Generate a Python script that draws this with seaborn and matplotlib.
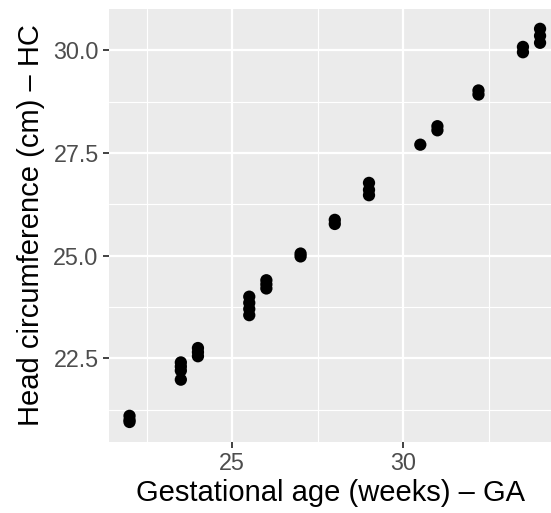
import numpy as np
import pandas as pd
import seaborn as sns
import matplotlib
matplotlib.use("Agg")
import matplotlib.pyplot as plt
from matplotlib.ticker import MultipleLocator

# Data
ga = [22.0, 22.0, 22.0,
      23.5, 23.5, 23.5, 23.5,
      24.0, 24.0, 24.0,
      25.5, 25.5, 25.5, 25.5,
      26.0, 26.0, 26.0,
      27.0, 27.0,
      28.0, 28.0,
      29.0, 29.0, 29.0,
      30.5,
      31.0, 31.0,
      32.2, 32.2,
      33.5, 33.5,
      34.0, 34.0, 34.0]
hc = [21.1, 21.0, 20.95,
      22.4, 22.3, 22.2, 21.98,
      22.75, 22.65, 22.55,
      24.0, 23.85, 23.7, 23.55,
      24.4, 24.3, 24.2,
      25.05, 24.98,
      25.87, 25.77,
      26.77, 26.6, 26.47,
      27.7,
      28.15, 28.05,
      29.02, 28.92,
      30.08, 29.95,
      30.52, 30.35, 30.18]
x_ticks = [25, 30]
y_ticks = [22.5, 25.0, 27.5, 30.0]
y_tick_labels = ["22.5", "25.0", "27.5", "30.0"]

df = pd.DataFrame({"GA": ga, "HC": hc})

sns.set_theme(style="darkgrid")
plt.rcParams["font.family"] = ["Liberation Sans", "DejaVu Sans"]

W, H = 551, 513
fig = plt.figure(figsize=(W / 100, H / 100), dpi=100)
left, right, top, bottom = 109, 551, 8.7, 441.7
ax = fig.add_axes([left / W, 1 - bottom / H, (right - left) / W, (bottom - top) / H])
ax.set_facecolor("#EBEBEB")

sns.scatterplot(data=df, x="GA", y="HC", ax=ax, color="black", s=78,
                linewidth=0, edgecolor="none", zorder=3)

ax.set_xlim(21.4, 34.32)
ax.set_ylim(20.47, 31.01)
ax.set_xticks(x_ticks)
ax.set_xticklabels([str(t) for t in x_ticks])
ax.set_yticks(y_ticks)
ax.set_yticklabels(y_tick_labels)
ax.xaxis.set_minor_locator(MultipleLocator(2.5))
ax.yaxis.set_minor_locator(MultipleLocator(1.25))

ax.grid(which="major", color="white", linewidth=1.6)
ax.grid(which="minor", color="white", linewidth=0.8)
ax.set_axisbelow(True)
for sp in ax.spines.values():
    sp.set_visible(False)

ax.tick_params(axis="both", which="major", length=4.4, width=1.3, color="#333333",
               labelsize=16.8, labelcolor="#4D4D4D", pad=3, bottom=True, left=True)
ax.tick_params(axis="both", which="minor", length=0)

ax.set_xlabel("Gestational age (weeks) – GA", fontsize=21, color="black", labelpad=3)
ax.set_ylabel("Head circumference (cm) – HC", fontsize=21, color="black", labelpad=6)

fig.savefig("out.png", dpi=100)
